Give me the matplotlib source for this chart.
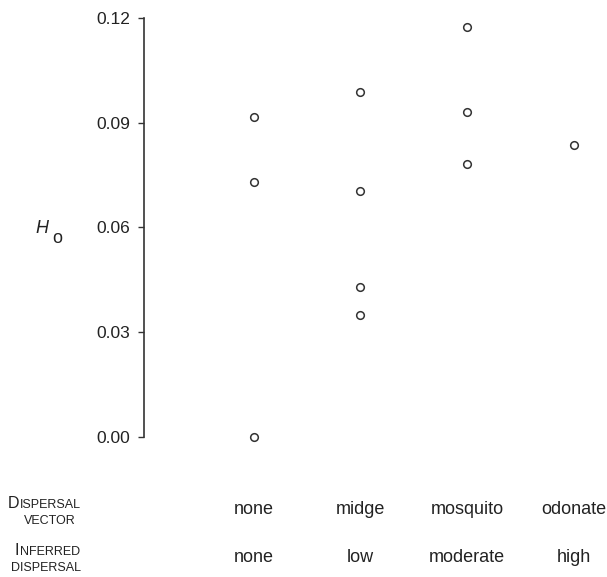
import matplotlib
matplotlib.use("Agg")
import matplotlib.pyplot as plt
import matplotlib.transforms as mtransforms

plt.rcParams['font.family'] = ['Liberation Sans', 'DejaVu Sans']

vectors = ["none", "midge", "mosquito", "odonate"]
inferred = ["none", "low", "moderate", "high"]
ho_values = [
    [0.0918, 0.0730, 0.0],
    [0.0988, 0.0706, 0.0428, 0.0348],
    [0.1176, 0.0931, 0.0781],
    [0.0837],
]
yticks = [0.00, 0.03, 0.06, 0.09, 0.12]
ytick_labels = ["0.00", "0.03", "0.06", "0.09", "0.12"]

W, H = 607, 577
fig = plt.figure(figsize=(W / 100, H / 100), dpi=100)
ax = fig.add_axes([143.7 / W, 1 - 454.1 / H, 462 / W, 439.3 / H])

dark = "#333333"
txt = "#222222"
for i, vals in enumerate(ho_values):
    ax.plot([i] * len(vals), vals, linestyle="none", marker="o", markersize=5.5,
            markerfacecolor="white", markeredgecolor=dark, markeredgewidth=1.1,
            clip_on=False)

ax.set_xlim(-1.03, 3.3)
ax.set_ylim(-0.005, 0.121)
ax.set_yticks(yticks)
ax.set_yticklabels(ytick_labels)
ax.spines['left'].set_bounds(0, 0.12)
for s in ['top', 'right', 'bottom']:
    ax.spines[s].set_visible(False)
ax.spines['left'].set_color(dark)
ax.spines['left'].set_linewidth(1.2)
ax.set_xticks([])
ax.tick_params(axis='y', direction='out', length=4, width=1.0, color=dark,
               labelsize=12.5, labelcolor=txt, pad=6)

trans = mtransforms.blended_transform_factory(ax.transData, fig.transFigure)
for i, (v, d) in enumerate(zip(vectors, inferred)):
    ax.text(i, 1 - 510 / H, v, transform=trans, ha="center", va="center",
            fontsize=13, color=txt)
    ax.text(i, 1 - 557 / H, d, transform=trans, ha="center", va="center",
            fontsize=13, color=txt)

# H_o label
fig.text(35 / W, 1 - 233 / H, "H", fontsize=13, style="italic",
         color=txt, va="baseline", ha="left")
fig.text(52 / W, 1 - 243 / H, "o", fontsize=13, color=txt,
         va="baseline", ha="left")

renderer = fig.canvas.get_renderer()


def small_caps(x_left, y_base, first, rest, big=11.5, small=9):
    t1 = fig.text(x_left / W, 1 - y_base / H, first, fontsize=big,
                  color=txt, va="baseline", ha="left")
    bb = t1.get_window_extent(renderer=renderer)
    fig.text((bb.x1 + 0.5) / W, 1 - y_base / H, rest, fontsize=small,
             color=txt, va="baseline", ha="left")


small_caps(8, 508, "D", "ISPERSAL")
fig.text(50 / W, 1 - 524 / H, "VECTOR", fontsize=9, color=txt,
         va="baseline", ha="center")
small_caps(15, 555, "I", "NFERRED")
fig.text(46 / W, 1 - 571 / H, "DISPERSAL", fontsize=9, color=txt,
         va="baseline", ha="center")

fig.savefig("out.png", dpi=100)
